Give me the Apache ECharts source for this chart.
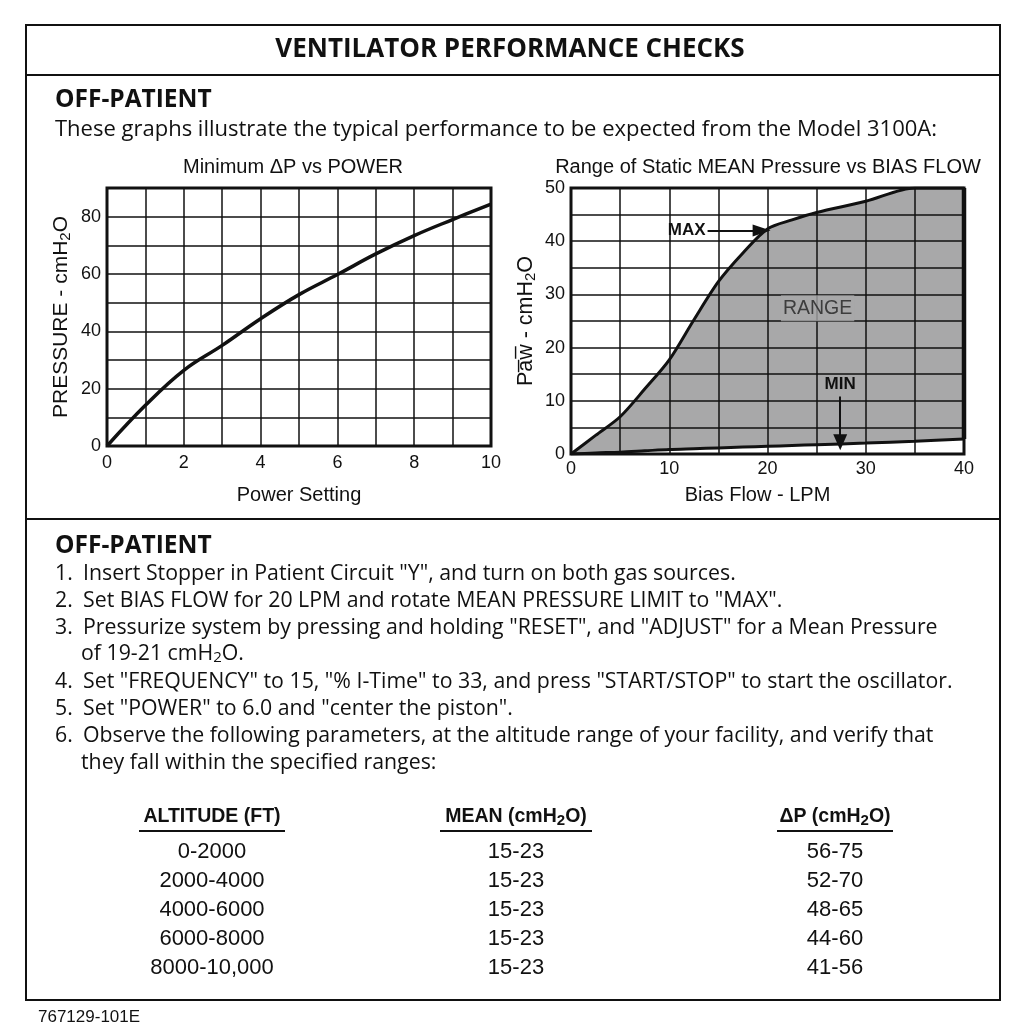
<!DOCTYPE html>
<html>
<head>
<meta charset="utf-8">
<script src="https://cdn.jsdelivr.net/npm/echarts@6/dist/echarts.min.js"></script>
<style>
html,body{margin:0;padding:0;background:#fff;}
#c{width:1024px;height:1029px;}
</style>
</head>
<body>
<div id="c"></div>
<script>
// ---------- data ----------
const powerSetting = [0, 1, 2, 3, 4, 5, 6, 7, 8, 9, 10];
const minDeltaP = [0, 14.2, 26.4, 35.1, 44.4, 52.8, 59.8, 67, 73.4, 79, 84.4];

const biasFlow = [0, 2.5, 5, 7.5, 10, 12.5, 15, 17.5, 20, 22.5, 25, 30, 35, 40];
const maxPaw = [0, 3.5, 7, 12.2, 17.7, 25.2, 32.4, 37.8, 42.3, 44, 45.4, 47.5, 50, 50];
const minPaw = [0, 0.2, 0.35, 0.6, 0.85, 1.0, 1.15, 1.3, 1.45, 1.6, 1.75, 2.05, 2.4, 2.8];

const leftYTicks = [0, 20, 40, 60, 80];
const leftXTicks = [0, 2, 4, 6, 8, 10];
const rightYTicks = [0, 10, 20, 30, 40, 50];
const rightXTicks = [0, 10, 20, 30, 40];

const altitudes = ['0-2000', '2000-4000', '4000-6000', '6000-8000', '8000-10,000'];
const meanRanges = ['15-23', '15-23', '15-23', '15-23', '15-23'];
const deltaPRanges = ['56-75', '52-70', '48-65', '44-60', '41-56'];

const steps = [
  ['1.', 'Insert Stopper in Patient Circuit "Y", and turn on both gas sources.'],
  ['2.', 'Set BIAS FLOW for 20 LPM and rotate MEAN PRESSURE LIMIT to "MAX".'],
  ['3.', 'Pressurize system by pressing and holding "RESET", and "ADJUST" for a Mean Pressure'],
  ['', 'of 19-21 cmH{s|2}O.'],
  ['4.', 'Set "FREQUENCY" to 15, "% I-Time" to 33, and press "START/STOP" to start the oscillator.'],
  ['5.', 'Set "POWER" to 6.0 and "center the piston".'],
  ['6.', 'Observe the following parameters, at the altitude range of your facility, and verify that'],
  ['', 'they fall within the specified ranges:']
];

// ---------- build ----------
const BODY = '"Open Sans", "Noto Sans", sans-serif';
const ARIAL = '"Liberation Sans", Arial, sans-serif';
const NARROW = '"Liberation Sans Narrow", "Arial Narrow", "Liberation Sans", sans-serif';

const chart = echarts.init(document.getElementById('c'));

const graphics = [];
graphics.push({type:'rect', shape:{x:26, y:25, width:974, height:975}, style:{fill:'none', stroke:'#111', lineWidth:2}});
graphics.push({type:'line', shape:{x1:26, y1:75, x2:1000, y2:75}, style:{stroke:'#111', lineWidth:2}});
graphics.push({type:'line', shape:{x1:26, y1:519, x2:1000, y2:519}, style:{stroke:'#111', lineWidth:2}});

function txt(x, y, text, font, opts) {
  opts = opts || {};
  graphics.push({
    type:'text', x:x, y:y,
    style: Object.assign({
      text:text, font:font, fill:'#111',
      align: opts.align || 'left', verticalAlign:'middle',
      textAlign: opts.align || 'left', textVerticalAlign:'middle'
    }, opts.rich ? {rich: opts.rich} : {})
  });
}
const subRich = (size) => ({ s: { fontSize: size, fontFamily: BODY, verticalAlign:'bottom', padding:[Math.round(size*0.55),0,0,0], fill:'#111' } });

txt(510, 50, 'VENTILATOR PERFORMANCE CHECKS', 'bold 26px ' + BODY, {align:'center'});
txt(55, 100, 'OFF-PATIENT', 'bold 24.5px ' + BODY);
txt(55, 130, 'These graphs illustrate the typical performance to be expected from the Model 3100A:', '22px ' + BODY);

txt(293, 167, 'Minimum \u0394P vs POWER', '20px ' + ARIAL, {align:'center'});
txt(768, 167, 'Range of Static MEAN Pressure vs BIAS FLOW', '20px ' + ARIAL, {align:'center'});

txt(55, 546, 'OFF-PATIENT', 'bold 24.5px ' + BODY);
const stepY = [574, 601, 628, 654, 682, 709, 736, 763];
steps.forEach((s, i) => {
  if (s[0]) txt(55, stepY[i], s[0], '21.3px ' + BODY);
  txt(s[0] ? 83 : 81, stepY[i], s[1], '21.3px ' + BODY, {rich: subRich(15)});
});

// table
const colX = [212, 516, 835];
const headers = ['ALTITUDE (FT)', 'MEAN (cmH{s|2}O)', '\u0394P (cmH{s|2}O)'];
const headRich = { s: { fontSize: 15, fontWeight:'bold', fontFamily: NARROW, verticalAlign:'bottom', padding:[7,0,0,0], fill:'#111' } };
headers.forEach((h, i) => txt(colX[i], 817, h, 'bold 19.5px ' + NARROW, {align:'center', rich: headRich}));
const ul = [[139, 285], [440, 592], [777, 893]];
ul.forEach(u => graphics.push({type:'line', shape:{x1:u[0], y1:831, x2:u[1], y2:831}, style:{stroke:'#111', lineWidth:2}}));
const rowY = [852, 881, 910, 939, 968];
altitudes.forEach((a, i) => {
  txt(colX[0], rowY[i], a, '22px ' + NARROW, {align:'center'});
  txt(colX[1], rowY[i], meanRanges[i], '22px ' + NARROW, {align:'center'});
  txt(colX[2], rowY[i], deltaPRanges[i], '22px ' + NARROW, {align:'center'});
});
txt(38, 1017, '767129-101E', '17px ' + NARROW);

// axis helpers
const gridLine = {show:true, lineStyle:{color:'#111', width:1.5}};
const tickLabel = {color:'#111', fontSize:18, fontFamily:ARIAL};
const axName = {color:'#111', fontSize:20, fontFamily:ARIAL};
const nameRich = { s: { fontSize: 15, fontFamily: ARIAL, verticalAlign:'bottom', padding:[8,0,0,0], color:'#111' } };
const onlyTicks = (list) => (v) => (list.indexOf(v) >= 0 ? String(v) : '');

const AXZ = 5;

chart.setOption({
  animation:false,
  backgroundColor:'#fff',
  graphic: graphics,
  grid: [
    {left:107, top:188, width:384, height:258, show:true, borderColor:'#111', borderWidth:3, backgroundColor:'transparent', z:6},
    {left:571, top:188, width:393, height:266, show:true, borderColor:'#111', borderWidth:3, backgroundColor:'transparent', z:6}
  ],
  xAxis: [
    {gridIndex:0, type:'value', min:0, max:10, interval:1, z:AXZ,
     axisLine:{show:false}, axisTick:{show:false}, splitLine:gridLine,
     axisLabel:Object.assign({margin:8, formatter:onlyTicks(leftXTicks)}, tickLabel),
     name:'Power Setting', nameLocation:'middle', nameGap:39, nameTextStyle:axName},
    {gridIndex:1, type:'value', min:0, max:40, interval:5, z:AXZ,
     axisLine:{show:false}, axisTick:{show:false}, splitLine:gridLine,
     axisLabel:Object.assign({margin:6, formatter:onlyTicks(rightXTicks)}, tickLabel),
     name:'Bias Flow - LPM', nameLocation:'middle', nameGap:31,
     nameTextStyle:Object.assign({padding:[0,20,0,0]}, axName)}
  ],
  yAxis: [
    {gridIndex:0, type:'value', min:0, max:90, interval:10, z:AXZ,
     axisLine:{show:false}, axisTick:{show:false}, splitLine:gridLine,
     axisLabel:Object.assign({margin:6, formatter:onlyTicks(leftYTicks)}, tickLabel),
     name:'PRESSURE - cmH{s|2}O', nameLocation:'middle', nameGap:34,
     nameTextStyle:Object.assign({rich:nameRich}, axName, {fontSize:21})},
    {gridIndex:1, type:'value', min:0, max:50, interval:5, z:AXZ,
     axisLine:{show:false}, axisTick:{show:false}, splitLine:gridLine,
     axisLabel:Object.assign({margin:6, formatter:onlyTicks(rightYTicks)}, tickLabel),
     name:'Pa\u0305w\u0305 - cmH{s|2}O', nameLocation:'middle', nameGap:33,
     nameTextStyle:Object.assign({rich:nameRich}, axName, {fontSize:21.5})}
  ],
  series: [
    {type:'line', xAxisIndex:0, yAxisIndex:0, smooth:0.4, symbol:'none', z:2,
     lineStyle:{color:'#111', width:3.5},
     data: powerSetting.map((x, i) => [x, minDeltaP[i]])},
    {name:'max', type:'line', xAxisIndex:1, yAxisIndex:1, smooth:0.3, symbol:'none', z:2,
     lineStyle:{color:'#111', width:3},
     areaStyle:{color:'#a8a8a9', opacity:1},
     data: biasFlow.map((x, i) => [x, maxPaw[i]]),
     markLine:{silent:true, symbol:['none','triangle'], symbolSize:[12,18],
       lineStyle:{color:'#111', width:2, type:'solid'},
       label:{show:true, position:'start', formatter:'MAX', color:'#111', fontWeight:'bold', fontSize:17, fontFamily:NARROW, distance:2},
       data:[[{coord:[13.9, 42.0]}, {coord:[19.4, 42.0]}]]}},
    {name:'min', type:'line', xAxisIndex:1, yAxisIndex:1, smooth:0.3, symbol:'none', z:3,
     lineStyle:{color:'#111', width:3},
     areaStyle:{color:'#ffffff', opacity:1},
     data: biasFlow.map((x, i) => [x, minPaw[i]]),
     markLine:{silent:true, symbol:['none','triangle'], symbolSize:[14,16],
       lineStyle:{color:'#111', width:2, type:'solid'},
       label:{show:true, position:'start', formatter:'MIN', color:'#111', fontWeight:'bold', fontSize:17, fontFamily:NARROW, distance:4},
       data:[[{coord:[27.4, 10.8]}, {coord:[27.4, 2.2]}]]}},
    {type:'line', xAxisIndex:1, yAxisIndex:1, symbol:'none', z:4, lineStyle:{color:'#111', width:4.5},
     data:[[biasFlow[biasFlow.length-1], minPaw[minPaw.length-1]], [biasFlow[biasFlow.length-1], maxPaw[maxPaw.length-1]]]},
    {type:'scatter', xAxisIndex:1, yAxisIndex:1, z:10, symbolSize:0, silent:true,
     label:{show:true, position:'inside', formatter:'RANGE', color:'#222', fontSize:19.5, fontFamily:ARIAL,
            backgroundColor:'#a8a8a9', padding:[3,2]},
     data:[[25.1, 27.4]]}
  ]
});
</script>
</body>
</html>
